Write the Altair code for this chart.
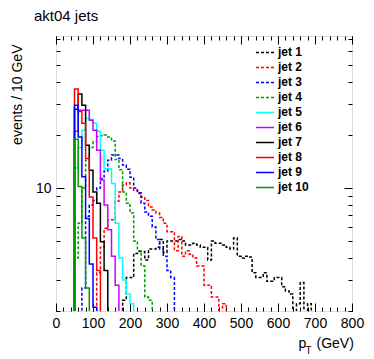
import altair as alt
import pandas as pd

# ---------------- data ----------------
JETS = ["jet 1", "jet 2", "jet 3", "jet 4", "jet 5",
        "jet 6", "jet 7", "jet 8", "jet 9", "jet 10"]
COLORS = ["#000000", "#ff0000", "#0000ff", "#009900", "#00ffff",
          "#cc00ff", "#000000", "#ff0000", "#0000ff", "#009900"]
DASHED = [True, True, True, True, False, False, False, False, False, False]

BIN_WIDTH = 10  # GeV
# lower edge (GeV) of the first filled bin of each jet
FIRST_BIN = [180, 110, 70, 50, 50, 50, 50, 50, 50, 50]

# events / 10 GeV, one value per bin starting at FIRST_BIN (0 = empty bin)
JET1 = [2.3, 3.1, 3.1, 4.25, 4.35, 4.35, 3.9, 4.5, 4.5, 4.6,
        5.1, 4.3, 5.0, 5.0, 5.0, 5.1, 5.0, 4.75, 4.75, 4.85,
        4.75, 4.6, 4.6, 3.9, 5.0, 4.85, 4.85, 4.75, 4.6, 4.5,
        5.2, 4.1, 4.0, 4.1, 4.05, 3.3, 3.1, 3.1, 3.3, 2.95,
        2.95, 3.1, 3.1, 2.75, 2.6, 2.5, 0, 2.2, 2.9, 0, 2.2]
JET2 = [3.3, 4.6, 5.9, 6.6, 6.6, 8.4, 9.5, 10.4, 10.7, 10.0,
        9.7, 9.3, 8.9, 8.5, 7.8, 7.5, 7.2, 6.8, 6.3, 5.65,
        5.65, 4.4, 5.3, 4.1, 4.4, 4.2, 4.0, 3.6, 3.6, 2.8,
        2.8, 2.4, 2.4, 0, 2.2]
JET3 = [2.7, 6.9, 8.0, 8.5, 10.0, 11.3, 12.5, 14.4, 15.4, 15.4,
        14.7, 13.5, 12.8, 11.5, 10.0, 9.4, 8.2, 7.3, 6.9, 6.0,
        5.1, 4.5, 4.1, 3.4, 3.1]
JET4 = [4.0, 6.3, 10.0, 14.4, 17.0, 18.3, 19.6, 19.8, 20.0, 19.5,
        18.5, 14.5, 12.7, 9.5, 8.2, 7.2, 5.0, 4.4, 3.6, 2.4, 2.3]
JET5 = [13.0, 17.0, 21.3, 24.9, 24.5, 23.3, 21.0, 16.4, 12.9, 12.9,
        10.6, 6.3, 4.0, 3.0, 2.5, 2.2]
JET6 = [21.0, 27.7, 27.7, 27.7, 24.3, 21.3, 16.4, 11.1, 8.0, 5.8,
        4.1, 2.8]
JET7 = [28.0, 34.2, 29.5, 17.5, 12.6, 9.5, 8.2, 4.95, 3.4]
JET8 = [36.5, 27.2, 23.3, 14.7, 8.9, 5.2, 3.4]
JET9 = [29.5, 19.5, 11.6, 6.7, 3.7, 2.1]
JET10 = [18.9, 10.2, 5.2, 2.7]
SERIES = [JET1, JET2, JET3, JET4, JET5, JET6, JET7, JET8, JET9, JET10]

X_TICKS = list(range(0, 801, 100))
X_MINOR = list(range(0, 801, 20))
Y_TICKS = [10]
Y_MINOR = [2, 3, 4, 5, 6, 7, 8, 9, 20, 30, 40, 50, 60, 70]
Y_DOMAIN = [2, 73.1]
X_DOMAIN = [0, 800]

# ---------------- table: histogram outlines (empty bins sit below the axis floor) ----
FLOOR = 0.5
rows = []
for jet, first, vals in zip(JETS, FIRST_BIN, SERIES):
    rows.append({"jet": jet, "pt": first - BIN_WIDTH, "n": FLOOR})
    for k, v in enumerate(vals):
        rows.append({"jet": jet, "pt": first + k * BIN_WIDTH, "n": v if v > 0 else FLOOR})
    rows.append({"jet": jet, "pt": first + len(vals) * BIN_WIDTH, "n": FLOOR})
df = pd.DataFrame(rows)

FONT = "Liberation Sans"
xscale = alt.Scale(domain=X_DOMAIN, nice=False, zero=False)
yscale = alt.Scale(type="log", domain=Y_DOMAIN, nice=False)

dash_range = [[3, 2] if d else [1, 0] for d in DASHED]
legend = alt.Legend(
    title=None, orient="none", legendX=199, legendY=10, padding=0,
    symbolType="stroke", symbolSize=324, symbolStrokeWidth=1.5,
    clipHeight=12.8, rowPadding=2, labelOffset=3,
    labelFont=FONT, labelFontSize=12, labelFontWeight="bold", labelColor="black",
)

common_axis = dict(grid=False, domain=False, tickColor="black", tickWidth=1,
                   labelColor="black", titleColor="black", titleFont=FONT,
                   titleFontWeight="normal", labelFont=FONT)

hist = alt.Chart(df).mark_line(interpolate="step-after", strokeWidth=1.5, clip=True).encode(
    x=alt.X("pt:Q", scale=xscale, axis=alt.Axis(
        orient="bottom", values=X_TICKS, tickSize=8, offset=-8, labelPadding=5,
        labelFontSize=14, labelFlush=False, labelOverlap=False, format="d",
        title="p", titleFontSize=14, titleX=242, titleY=44, titleAlign="left",
        titleBaseline="alphabetic", titleAngle=0, **common_axis)),
    y=alt.Y("n:Q", scale=yscale, axis=alt.Axis(
        orient="left", values=Y_TICKS, tickSize=8, offset=-8, labelPadding=5,
        labelFontSize=14, format="d",
        title="events / 10 GeV", titleFontSize=14, titleX=-47, titleY=8,
        titleAlign="right", titleAngle=-90, titleBaseline="middle", **common_axis)),
    color=alt.Color("jet:N", scale=alt.Scale(domain=JETS, range=COLORS), legend=legend),
    strokeDash=alt.StrokeDash("jet:N", scale=alt.Scale(domain=JETS, range=dash_range), legend=legend),
)

ghost = alt.Chart(df).mark_point(opacity=0, clip=True)

minor_bl = ghost.encode(
    x=alt.X("pt:Q", scale=xscale, axis=alt.Axis(
        orient="bottom", values=X_MINOR, tickSize=4, offset=-4, labels=False,
        title="T", titleFontSize=10, titleX=249, titleY=46, titleAlign="left",
        titleBaseline="alphabetic", titleAngle=0, **common_axis)),
    y=alt.Y("n:Q", scale=yscale, axis=alt.Axis(
        orient="left", values=Y_MINOR, tickSize=4, offset=-4, labels=False,
        title=None, **common_axis)),
)
major_tr = ghost.encode(
    x=alt.X("pt:Q", scale=xscale, axis=alt.Axis(
        orient="top", values=X_TICKS, tickSize=8, offset=-8, labels=False,
        title="(GeV)", titleFontSize=14, titleX=260, titleY=303, titleAlign="left",
        titleBaseline="alphabetic", titleAngle=0, **common_axis)),
    y=alt.Y("n:Q", scale=yscale, axis=alt.Axis(
        orient="right", values=Y_TICKS, tickSize=8, offset=-8, labels=False,
        title=None, **common_axis)),
)
minor_tr = ghost.encode(
    x=alt.X("pt:Q", scale=xscale, axis=alt.Axis(
        orient="top", values=X_MINOR, tickSize=4, offset=-4, labels=False,
        title=None, **common_axis)),
    y=alt.Y("n:Q", scale=yscale, axis=alt.Axis(
        orient="right", values=Y_MINOR, tickSize=4, offset=-4, labels=False,
        title=None, **common_axis)),
)

chart = alt.layer(hist, minor_bl, major_tr, minor_tr).resolve_axis(
    x="independent", y="independent"
).properties(
    width=296, height=275,
    autosize=alt.AutoSizeParams(type="none"),
    padding={"left": 48, "top": 28, "right": 14, "bottom": 44},
    title=alt.TitleParams("akt04 jets", anchor="start", frame="group", fontSize=15,
                          font=FONT, fontWeight="normal", color="black", dx=-22, offset=12),
).configure_view(stroke="black", strokeWidth=1).configure(background="white")

chart.save("out.html", embed_options={"renderer": "svg", "actions": False})
